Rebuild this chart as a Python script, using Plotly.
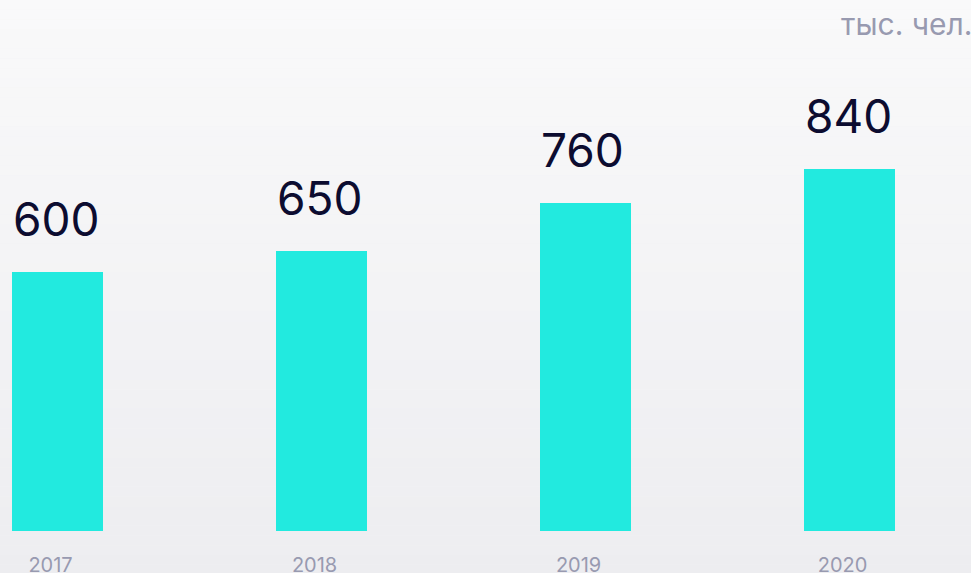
import plotly.graph_objects as go

years = ["2017", "2018", "2019", "2020"]
values = [600, 650, 760, 840]
unit_label = "тыс. чел."

BAR_COLOR = "#22EADF"
VALUE_COLOR = "#0C0C30"
MUTED = "#989AB0"
FONT = "Inter, 'Noto Sans', sans-serif"
BAR_W = 0.345

fig = go.Figure()
fig.add_trace(go.Bar(
    x=list(range(len(years))), y=values, width=BAR_W,
    marker=dict(color=BAR_COLOR, line=dict(width=0)),
    hoverinfo="skip",
))

# value labels, left aligned with each bar
for i, v in enumerate(values):
    fig.add_annotation(
        x=i - BAR_W / 2, y=v, xref="x", yref="y",
        text=str(v), showarrow=False, xanchor="left", yanchor="bottom",
        yshift=23, xshift=-1,
        font=dict(family=FONT, size=46, color=VALUE_COLOR),
    )

fig.add_annotation(
    x=1, y=1, xref="paper", yref="paper", text=unit_label, showarrow=False,
    xanchor="right", yanchor="top", yshift=-4, xshift=3,
    font=dict(family=FONT, size=30, color=MUTED),
)

# background vertical gradient (style only)
n = 60
top = (249, 249, 250)
bot = (237, 237, 240)
shapes = []
for k in range(n):
    t = k / (n - 1)
    c = tuple(round(top[j] + (bot[j] - top[j]) * t) for j in range(3))
    shapes.append(dict(
        type="rect", xref="paper", yref="paper", layer="below",
        x0=-0.01, x1=1.01, y0=1 - (k + 1) / n * 1.1, y1=1 - k / n * 1.1,
        line=dict(width=0), fillcolor="rgb(%d,%d,%d)" % c,
    ))

fig.update_layout(
    width=971, height=573,
    margin=dict(l=0, r=0, t=0, b=42),
    paper_bgcolor="rgb(243,243,245)", plot_bgcolor="rgba(0,0,0,0)",
    showlegend=False, bargap=0,
    shapes=shapes,
    xaxis=dict(
        tickmode="array", tickvals=list(range(len(years))), ticktext=years,
        range=[-0.218, 3.46], showgrid=False, zeroline=False, showline=False,
        ticks="", tickfont=dict(family=FONT, size=20, color=MUTED),
        ticklabelshift=-7, ticklabelstandoff=20, fixedrange=True,
        automargin=False,
    ),
    yaxis=dict(range=[0, 1231], visible=False, fixedrange=True, automargin=False),
)

fig.write_html(
    "out.html",
    config={"displayModeBar": False},
    post_script="document.body.style.margin='0';document.body.style.overflow='hidden';",
)
